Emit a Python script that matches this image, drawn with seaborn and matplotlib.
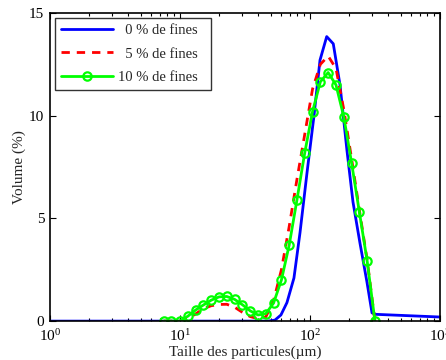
import numpy as np
import pandas as pd
import matplotlib
matplotlib.use("Agg")
import matplotlib.pyplot as plt
import seaborn as sns

# -------------------- DATA --------------------
# particle sizes (um) of the measuring grid
sizes = [7.5, 8.6, 10, 11.5, 13.2, 15.1, 17.4, 20, 22.9, 26.3, 30.2, 34.7, 39.8, 45.7,
         52.5, 60.3, 69.2, 79.4, 91.2, 104.7, 120.2, 138, 158.5, 182, 209, 240, 275, 316]

fines_5 = [0, 0, 0, 0.12, 0.35, 0.6, 0.75, 0.81, 0.82, 0.68, 0.43, 0.22, 0.12, 0.2,
           1.0, 2.5, 4.6, 6.9, 9.1, 11.3, 12.5, 12.9, 12.3, 10.3, 7.9, 5.4, 3.0, 0]

fines_10 = [0, 0, 0, 0.24, 0.54, 0.78, 1.02, 1.18, 1.2, 1.06, 0.8, 0.5, 0.3, 0.36,
            0.88, 2.0, 3.7, 5.9, 8.2, 10.2, 11.65, 12.1, 11.5, 9.95, 7.7, 5.3, 2.95, 0]

# 0 % fines curve has its own points
sizes_0 = [1, 47.5, 53.8, 59.8, 66.5, 75.3, 83.8, 94.8, 107.4, 119.4, 134.5, 151.1,
           170.2, 192.6, 214.2, 242.4, 274.4, 300, 322, 1000]
fines_0 = [0, 0, 0.05, 0.3, 0.9, 2.1, 4.3, 7.2, 10.0, 12.7, 13.85, 13.5,
           11.5, 8.3, 5.8, 3.8, 1.9, 0.4, 0.33, 0.2]

labels = ["  0 % de fines", "  5 % de fines", "10 % de fines"]

# -------------------- PLOT --------------------
sns.set_style("ticks")
plt.rcParams["font.family"] = ["Liberation Serif", "DejaVu Serif"]
plt.rcParams["mathtext.fontset"] = "stix"

fig = plt.figure(figsize=(4.46, 3.6), dpi=100)
ax = fig.add_axes([0.112, 0.108, 0.8745, 0.856])

sns.lineplot(x=sizes_0, y=fines_0, ax=ax, color=(0, 0, 1), linewidth=2,
             label=labels[0])
sns.lineplot(x=sizes, y=fines_5, ax=ax, color=(1, 0, 0), linewidth=2,
             linestyle=(0, (3, 2.5)), label=labels[1])
sns.lineplot(x=sizes, y=fines_10, ax=ax, color=(0, 1, 0), linewidth=2,
             marker="o", markersize=6, markerfacecolor="none",
             markeredgecolor=(0, 1, 0), markeredgewidth=1.6, label=labels[2])

ax.set_xscale("log")
ax.set_xlim(1, 1000)
ax.set_ylim(0, 15)
ax.set_yticks([0, 5, 10, 15])
ax.set_xticks([1, 10, 100, 1000])

ax.set_xlabel("Taille des particules(µm)", fontsize=11, labelpad=1)
ax.set_ylabel("Volume (%)", fontsize=11, labelpad=2)

ax.tick_params(axis="both", which="both", direction="in", top=True, right=True,
               labelsize=11, pad=4, width=0.8, colors="black")
ax.tick_params(axis="x", which="major", pad=5)
ax.tick_params(which="major", length=4)
ax.tick_params(which="minor", length=2)
for sp in ax.spines.values():
    sp.set_linewidth(1.2)
    sp.set_color("black")

# trailing spaces give the wide right margin of the legend box
leg_labels = [lab + "  " for lab in labels]
handles, _ = ax.get_legend_handles_labels()
leg = ax.legend(handles, leg_labels, loc="upper left", fontsize=10.5,
                handlelength=3.6, frameon=True, fancybox=False, edgecolor="black",
                borderaxespad=0.35, labelspacing=0.7, handletextpad=0.3)
leg.get_frame().set_linewidth(1.0)

fig.savefig("out.png", dpi=100)
